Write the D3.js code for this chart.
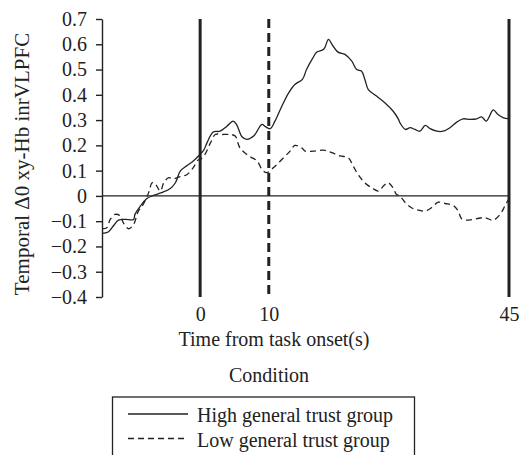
<!DOCTYPE html>
<html>
<head>
<meta charset="utf-8">
<script src="https://cdn.jsdelivr.net/npm/d3@7"></script>
<style>
  html, body { margin: 0; padding: 0; background: #fff; }
  svg { display: block; }
  text { font-family: "Liberation Serif", "Times New Roman", serif; fill: #222; }
</style>
</head>
<body>
<svg id="chart" width="519" height="455"></svg>
<script>
// Time course of oxy-Hb change, high vs. low general trust groups
const highTime = [-14.3,-13.4,-12.6,-11.9,-10.9,-9.7,-9.5,-8.7,-7.8,-6.8,-5.6,-4.4,-3.6,-2.9,-1.9,-1.0,0,0.5,1.0,1.9,2.9,3.9,4.8,5.3,6.1,6.8,7.8,9.0,9.5,10.2,10.9,11.9,12.9,13.8,14.9,15.5,16.3,17.0,18.0,18.7,19.2,20.1,21.1,22.1,22.8,23.5,24.0,24.5,25.7,26.9,28.1,28.9,29.1,29.9,30.6,31.3,32.0,32.8,33.5,34.5,35.4,36.4,37.4,38.3,39.3,40.3,41.0,41.7,42.7,43.4,44.2,45.0];
const highTrust = [-0.148,-0.143,-0.117,-0.096,-0.093,-0.093,-0.073,-0.040,-0.011,0.002,0.013,0.028,0.052,0.098,0.120,0.138,0.165,0.180,0.210,0.253,0.256,0.276,0.296,0.283,0.234,0.224,0.237,0.283,0.274,0.266,0.296,0.355,0.408,0.441,0.461,0.500,0.540,0.569,0.580,0.619,0.600,0.569,0.560,0.533,0.500,0.494,0.461,0.421,0.395,0.369,0.336,0.303,0.290,0.263,0.270,0.263,0.256,0.279,0.266,0.256,0.256,0.270,0.292,0.305,0.303,0.305,0.313,0.296,0.340,0.322,0.309,0.305];

const lowTime = [-14.3,-13.6,-13.1,-12.4,-11.6,-11.2,-10.4,-9.7,-9.0,-8.3,-7.5,-7.0,-6.6,-5.8,-5.3,-4.6,-3.9,-2.9,-1.9,-1.0,-0.3,0,0.7,1.5,2.2,3.2,4.4,5.1,5.8,7.0,8.3,9.0,9.7,10.7,11.9,13.1,13.8,14.8,15.3,16.5,18.0,19.2,20.4,21.6,22.3,23.1,24.0,25.0,26.0,26.7,27.4,28.1,28.6,29.1,29.9,30.8,31.8,32.8,33.7,34.7,35.7,36.9,37.6,38.1,39.1,40.3,41.5,42.7,43.7,44.4,45.0];
const lowTrust = [-0.130,-0.126,-0.093,-0.073,-0.080,-0.106,-0.130,-0.113,-0.060,-0.034,0.013,0.052,0.050,0.019,0.052,0.072,0.068,0.076,0.085,0.112,0.142,0.144,0.164,0.210,0.243,0.243,0.243,0.237,0.190,0.160,0.138,0.105,0.092,0.112,0.144,0.177,0.200,0.190,0.177,0.177,0.181,0.171,0.158,0.151,0.118,0.081,0.052,0.032,0.019,0.039,0.052,0.032,0.006,0.000,-0.027,-0.047,-0.056,-0.060,-0.047,-0.025,-0.030,-0.038,-0.060,-0.090,-0.096,-0.090,-0.086,-0.096,-0.073,-0.040,-0.010];

const yTicks = [-0.4,-0.3,-0.2,-0.1,0,0.1,0.2,0.3,0.4,0.5,0.6,0.7];
const xTicks = [0, 10, 45];
const seriesNames = ["High general trust group", "Low general trust group"];

const svg = d3.select("#chart");
const ink = "#222";

const x = d3.scaleLinear().domain([-14.3, 45]).range([102, 509]);
const y = d3.scaleLinear().domain([-0.4, 0.7]).range([297, 19]);

// y axis
const fmt = d => d === 0 ? "0" : d3.format(".1f")(d);
const yAxis = svg.append("g")
  .attr("transform", `translate(${x.range()[0]},0)`)
  .call(d3.axisLeft(y).tickValues(yTicks).tickFormat(fmt).tickSize(6).tickSizeOuter(0).tickPadding(9));
yAxis.select(".domain").attr("stroke", ink).attr("stroke-width", 1.4);
yAxis.selectAll(".tick line").attr("stroke", ink).attr("stroke-width", 1.4);
yAxis.selectAll("text").style("font-size", "20px").attr("fill", ink)
  .style("font-family", "'Liberation Serif', serif");

// x tick labels (no axis line)
const xAxis = svg.append("g")
  .attr("transform", `translate(0,${y.range()[0]})`)
  .call(d3.axisBottom(x).tickValues(xTicks).tickSize(0).tickPadding(10));
xAxis.select(".domain").remove();
xAxis.selectAll("text").style("font-size", "20px").attr("fill", ink)
  .style("font-family", "'Liberation Serif', serif");

// zero baseline
svg.append("line")
  .attr("x1", x.range()[0]).attr("x2", x(45))
  .attr("y1", y(0)).attr("y2", y(0))
  .attr("stroke", ink).attr("stroke-width", 1.3);

// event markers: task onset, 10 s, task end
const markers = [{t: 0, dash: null}, {t: 10, dash: "9,5"}, {t: 45, dash: null}];
svg.selectAll("line.marker").data(markers).join("line")
  .attr("class", "marker")
  .attr("x1", d => x(d.t)).attr("x2", d => x(d.t))
  .attr("y1", y(0.7)).attr("y2", y(-0.4))
  .attr("stroke", ink).attr("stroke-width", 3)
  .attr("stroke-dasharray", d => d.dash);

// series lines
const line = d3.line()
  .x(d => x(d[0])).y(d => y(d[1]))
  .curve(d3.curveCatmullRom.alpha(0.5));

svg.append("path")
  .datum(d3.zip(highTime, highTrust))
  .attr("d", line)
  .attr("fill", "none").attr("stroke", ink).attr("stroke-width", 1.3);

svg.append("path")
  .datum(d3.zip(lowTime, lowTrust))
  .attr("d", line)
  .attr("fill", "none").attr("stroke", ink).attr("stroke-width", 1.3)
  .attr("stroke-dasharray", "6,4");

// axis titles
svg.append("text")
  .attr("transform", "translate(29,164) rotate(-90)")
  .attr("text-anchor", "middle")
  .style("font-size", "21px")
  .text("Temporal \u03940 xy-Hb inrVLPFC");

svg.append("text")
  .attr("x", 274).attr("y", 346)
  .attr("text-anchor", "middle")
  .style("font-size", "20px")
  .text("Time from task onset(s)");

svg.append("text")
  .attr("x", 269).attr("y", 382)
  .attr("text-anchor", "middle")
  .style("font-size", "20px")
  .text("Condition");

// legend
const legend = svg.append("g");
legend.append("rect")
  .attr("x", 112.5).attr("y", 397)
  .attr("width", 302).attr("height", 80)
  .attr("fill", "none").attr("stroke", ink).attr("stroke-width", 1.3);

const rows = legend.selectAll("g.row").data(seriesNames).join("g")
  .attr("class", "row")
  .attr("transform", (d, i) => `translate(0,${414 + i * 24.5})`);
rows.append("line")
  .attr("x1", 128).attr("x2", 188)
  .attr("stroke", ink).attr("stroke-width", 1.3)
  .attr("stroke-dasharray", (d, i) => i === 1 ? "6,4" : null);
rows.append("text")
  .attr("x", 197).attr("y", 8)
  .style("font-size", "20px")
  .text(d => d);
</script>
</body>
</html>
